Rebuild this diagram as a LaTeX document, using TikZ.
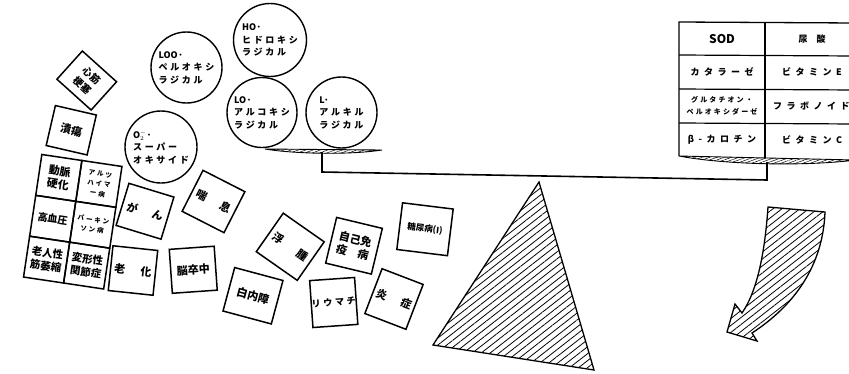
\documentclass[tikz,border=0pt]{standalone}
\usepackage{fontspec}
\setmainfont{Noto Sans CJK JP}
\newfontfamily\jpsp{Noto Sans CJK JP}[LetterSpace=30]
\newfontfamily\jpwide{Noto Sans CJK JP}[LetterSpace=50]
\usetikzlibrary{patterns.meta}

\tikzset{
  radical/.style={circle,draw,line width=1.4pt,inner sep=0pt,minimum size=71,align=left,font=\jpsp\bfseries\fontsize{9}{12.5}\selectfont},
  illbox/.style={draw,line width=1.5pt,inner sep=0pt,align=center,font=\bfseries\fontsize{11}{13}\selectfont},
  smallill/.style={illbox,font=\jpsp\bfseries\fontsize{6.5}{10}\selectfont},
  tabcell/.style={inner sep=0pt,align=center,font=\jpwide\bfseries\fontsize{9}{12}\selectfont},
  hatch/.style={draw,line width=1.3pt,pattern={Lines[angle=38,distance=5.5pt,line width=0.8pt]}},
  panhatch/.style={draw,line width=0.9pt,pattern={Lines[angle=20,distance=2.5pt,line width=0.5pt]}},
  beam/.style={line width=1.6pt}
}

\begin{document}
\begin{tikzpicture}[x=1pt,y=-1pt]
\useasboundingbox (0,0) rectangle (849,373);

\node[radical,minimum size=73] (ho) at (270,40) {{\rmfamily HO·}\\ヒドロキシ\\ラジカル};
\node[radical] (loo) at (186.5,67.5) {{\rmfamily LOO·}\\ペルオキシ\\ラジカル};
\node[radical,minimum size=70] (lo) at (262,112.5) {{\rmfamily LO·}\\アルコキシ\\ラジカル};
\node[radical] (l) at (341.5,112.5) {{\rmfamily L·}\\アルキル\\ラジカル};
\node[radical,minimum size=72] (sup) at (161,147) {{\rmfamily O$_2^-$·}\\スーパー\\オキサイド};

\draw[panhatch] (265,149) -- (382,150) .. controls (350,155) and (295,154) .. cycle;
\coordinate (lpan) at (322,152);
\coordinate (lbend) at (322,172);
\coordinate (rbend) at (767,180);
\coordinate (rpan) at (767,162);
\draw[beam] (lpan) -- (lbend) -- (rbend) -- (rpan);
\draw[panhatch] (679,156) -- (856,160) .. controls (800,167) and (720,164) .. cycle;

\draw[line width=1.3pt] (679,156) -- (679,22) -- (856,23);
\draw[line width=1.3pt] (765,22.5) -- (765,158);
\foreach \yy in {55,89,123} \draw[line width=1.2pt] (679,\yy) -- (856,\yy+1);
\node[tabcell,font=\bfseries\fontsize{12}{12}\selectfont] (sod) at (722,39) {SOD};
\node[tabcell] (uric) at (812,39) {尿\hspace{1em}酸};
\node[tabcell] (cat) at (722,72) {カタラーゼ};
\node[tabcell] (vite) at (812,72) {ビタミンE};
\node[tabcell,font=\jpsp\bfseries\fontsize{7}{12}\selectfont] (gpx) at (722,106) {グルタチオン・\\ペルオキシダーゼ};
\node[tabcell,anchor=west] (flav) at (773,106) {フラボノイド};
\node[tabcell] (bcar) at (722,140) {β-カロチン};
\node[tabcell] (vitc) at (812,140) {ビタミンC};

\draw[hatch] (539,182) -- (594,370) -- (433,345) -- cycle;
\draw[hatch] (768,207) -- (825,212) .. controls (823,265) and (795,305) .. (752,333)
  -- (757,341) -- (727,332) -- (735,304) -- (742,313) .. controls (758,290) and (765,250) .. cycle;

\node[illbox,minimum width=46,minimum height=38,rotate=-42,font=\bfseries\fontsize{10}{14}\selectfont] (infarct) at (86.75,80.5) {心筋\\梗塞};
\node[illbox,minimum width=42,minimum height=41,rotate=-13] (ulcer) at (71.25,130.25) {潰瘍};

\begin{scope}[shift={(72.75,221.75)},rotate=-8.5,transform shape]
\node[illbox,minimum width=40.5,minimum height=41.3] (athero) at (-20.25,-41.3) {動脈\\硬化};
\node[smallill,minimum width=40.5,minimum height=41.3] (alz) at (20.25,-41.3) {アルツ\\ハイマ\\ー病};
\node[illbox,minimum width=40.5,minimum height=41.3,font=\bfseries\fontsize{10}{12}\selectfont] (hyper) at (-20.25,0) {高血圧};
\node[smallill,minimum width=40.5,minimum height=41.3] (park) at (20.25,0) {パーキン\\ソン病};
\node[illbox,minimum width=40.5,minimum height=41.3,font=\bfseries\fontsize{10.5}{13}\selectfont] (sarco) at (-20.25,41.3) {老人性\\筋萎縮};
\node[illbox,minimum width=40.5,minimum height=41.3,font=\bfseries\fontsize{10.5}{13}\selectfont] (arth) at (20.25,41.3) {変形性\\関節症};
\end{scope}

\node[illbox,minimum width=47,minimum height=44,rotate=-17] (cancer) at (145,211.25) {が\hspace{1.4em}ん};
\node[illbox,minimum width=47,minimum height=46,rotate=-27] (asthma) at (213.5,201.5) {喘\hspace{1.4em}息};
\node[illbox,minimum width=45,minimum height=45,rotate=-6] (aging) at (133,270.5) {老\hspace{1.4em}化};
\node[illbox,minimum width=45,minimum height=44,rotate=4] (stroke) at (193.25,269.75) {脳卒中};
\node[illbox,minimum width=50,minimum height=45,rotate=-15] (cataract) at (253,295.75) {白内障};
\node[illbox,minimum width=50,minimum height=47,rotate=-35] (edema) at (290.25,246.75) {浮\hspace{1.6em}腫};
\node[illbox,minimum width=47,minimum height=47,rotate=-13.5] (autoimm) at (354,245.75) {自己免\\疫\hspace{1em}病};
\node[illbox,minimum width=51,minimum height=47,rotate=-7,font=\bfseries\fontsize{8.5}{10}\selectfont] (diabetes) at (425,229.25) {糖尿病(I)};
\node[illbox,minimum width=45,minimum height=47,rotate=4,font=\jpsp\bfseries\fontsize{9}{11}\selectfont] (rheuma) at (333.75,302.5) {リウマチ};
\node[illbox,minimum width=44,minimum height=48,rotate=-21] (inflam) at (394,299) {炎\hspace{1.4em}症};
\end{tikzpicture}
\end{document}
